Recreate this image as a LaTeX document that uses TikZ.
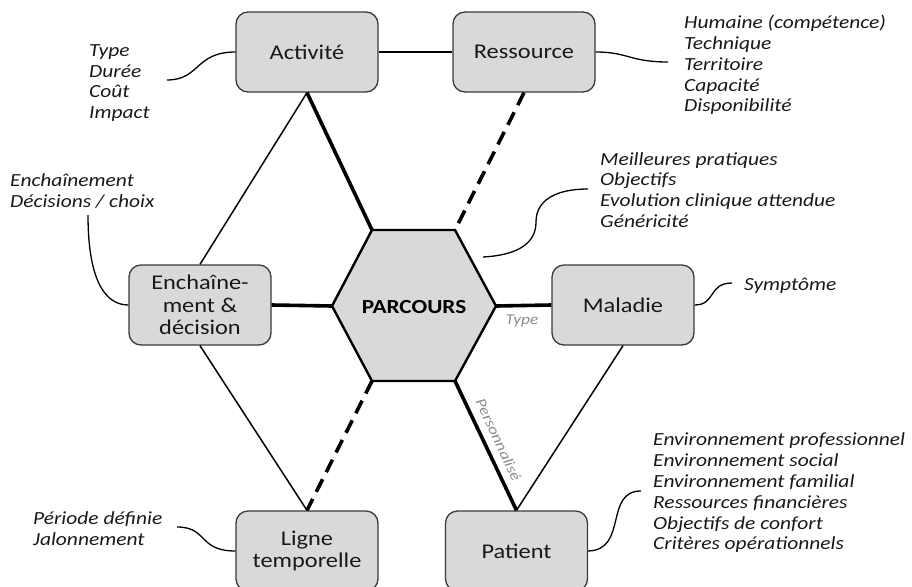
\documentclass[tikz,border=0pt]{standalone}
\usepackage{fontspec}
\setmainfont{Carlito}[FakeStretch=1.16]
\definecolor{boxgray}{HTML}{D9D9D9}
\definecolor{edgegray}{HTML}{3A3A3A}
\definecolor{lblgray}{HTML}{8C8C8C}
\begin{document}
\begin{tikzpicture}[x=1pt,y=-1pt,
  box/.style={draw=edgegray, line width=1.3pt, fill=boxgray, rounded corners=12pt,
    minimum width=142pt, minimum height=80pt, align=center, inner sep=2pt,
    font=\fontsize{21}{22.5}\selectfont, text=black!90},
  annot/.style={align=left, anchor=west, inner sep=0pt,
    font=\fontsize{18.5}{20.8}\selectfont\itshape, text=black!90},
  thickline/.style={line width=3.6pt},
  thinline/.style={line width=1.5pt},
  dashline/.style={line width=3.6pt, dash pattern=on 14pt off 8pt},
  curveline/.style={line width=1.3pt},
  elabel/.style={font=\fontsize{15}{15}\selectfont\itshape, text=lblgray, inner sep=0pt}
]
\useasboundingbox (0,0) rectangle (912,586);
\begin{scope}
\clip (0,0) rectangle (912,586);

% hexagon corners
\coordinate (h1) at (372,230);
\coordinate (h2) at (455,230);
\coordinate (h3) at (496,306);
\coordinate (h4) at (455,381);
\coordinate (h5) at (372,381);
\coordinate (h6) at (332,306);

% boxes
\node[box] (act) at (307,52) {Activité};
\node[box] (res) at (524,52) {Ressource};
\node[box] (enc) at (200,305) {Enchaîne-\\ment \&\\décision};
\node[box] (mal) at (623,305) {Maladie};
\node[box] (lig) at (307,551) {Ligne\\temporelle};
\node[box] (pat) at (516.5,551) {Patient};

% connectors
\draw[thinline] (act.east) -- (res.west);
\draw[thinline] (act.south) -- (enc.north);
\draw[thinline] (enc.south) -- (lig.north);
\draw[thinline] (mal.south) -- (pat.north);
\draw[thickline] (act.south) -- (h1);
\draw[dashline] (res.south) -- (h2);
\draw[thickline] (enc.east) -- (h6);
\draw[dashline] (h5) -- (lig.north);
\draw[thickline] (h3) -- (mal.west) node[pos=0.47, below=8pt, elabel] {Type};
\draw[thickline] (h4) -- (pat.north) node[pos=0.5, elabel, rotate=-65, anchor=south, inner sep=7pt] {Personnalisé};

% hexagon
\draw[fill=boxgray, line width=2.4pt, line join=miter] (h1) -- (h2) -- (h3) -- (h4) -- (h5) -- (h6) -- cycle;
\node[font=\fontsize{20}{20}\selectfont\bfseries] (parc) at (414,307) {PARCOURS};

% annotations
\node[annot] (tA) at (89,83) {Type\\Durée\\Coût\\Impact};
\node[annot] (tE) at (10,191) {Enchaînement\\Décisions / choix};
\node[annot] (tR) at (684,65) {Humaine (compétence)\\Technique\\Territoire\\Capacité\\Disponibilité};
\node[annot] (tP) at (600,190) {Meilleures pratiques\\Objectifs\\Evolution clinique attendue\\Généricité};
\node[annot] (tM) at (744,286) {Symptôme};
\node[annot] (tPa) at (653,493) {Environnement professionnel\\Environnement social\\Environnement familial\\Ressources financières\\Objectifs de confort\\Critères opérationnels};
\node[annot] (tL) at (33,529) {Période définie\\Jalonnement};

% annotation curves
\coordinate (cA) at (167,80);
\draw[curveline] (cA) .. controls (200,80) and (195,52) .. (act.west);
\coordinate (cE) at (88,215);
\draw[curveline] (cE) .. controls (88,280) and (105,305) .. (enc.west);
\coordinate (cR) at (668,62);
\draw[curveline] (res.east) .. controls (628,52) and (630,62) .. (cR);
\coordinate (cP1) at (483,257);
\coordinate (cP2) at (536,222);
\coordinate (cP3) at (588,189);
\draw[curveline] (cP1) .. controls (520,255) and (536,242) .. (cP2) .. controls (536,200) and (556,189) .. (cP3);
\coordinate (cM) at (732,283);
\draw[curveline] (mal.east) .. controls (716,305) and (708,283) .. (cM);
\coordinate (cPa) at (641,491);
\draw[curveline] (pat.east) .. controls (628,550) and (604,491) .. (cPa);
\coordinate (cL) at (177,527);
\draw[curveline] (cL) .. controls (208,527) and (198,551) .. (lig.west);
\end{scope}
\end{tikzpicture}
\end{document}
